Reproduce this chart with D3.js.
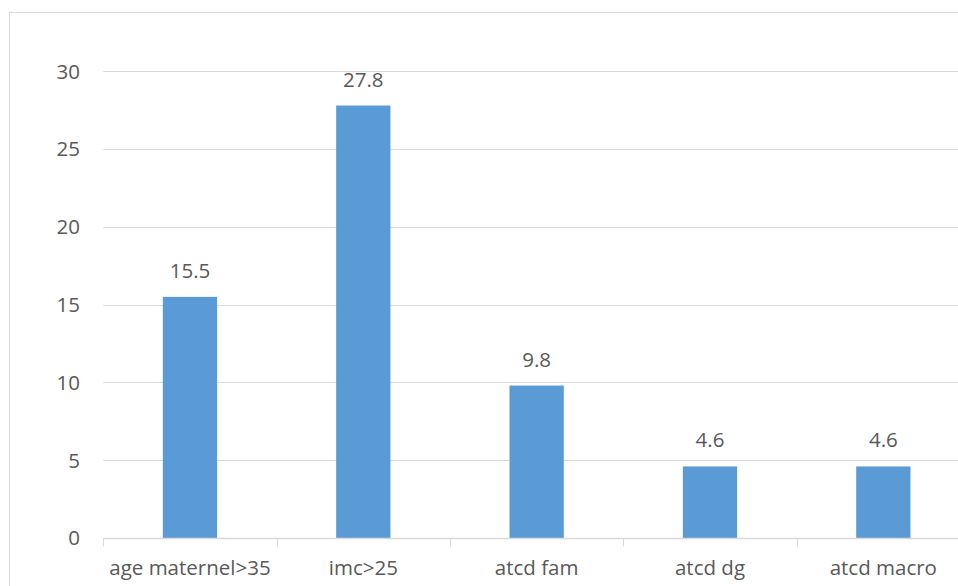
<!DOCTYPE html>
<html>
<head>
<meta charset="utf-8">
<script src="https://cdn.jsdelivr.net/npm/d3@7"></script>
<style>
  html, body { margin: 0; padding: 0; background: #ffffff; }
  svg { display: block; }
  text { font-family: "Open Sans", "Noto Sans", sans-serif; fill: #595959; }
</style>
</head>
<body>
<svg id="chart" width="958" height="586"></svg>
<script>
// Risk factors (%)
const categories = ["age maternel>35", "imc>25", "atcd fam", "atcd dg", "atcd macro"];
const values = [15.5, 27.8, 9.8, 4.6, 4.6];
const yTicks = [0, 5, 10, 15, 20, 25, 30];

const W = 958, H = 586;
const FS = 20.5;
const svg = d3.select("#chart");

// chart frame (extends past the right and bottom edges)
svg.append("rect")
  .attr("x", 9.5).attr("y", 12.5)
  .attr("width", 1000).attr("height", 600)
  .attr("fill", "none").attr("stroke", "#d9d9d9").attr("stroke-width", 1);

const plot = { left: 103.3, right: 970, top: 71.3, bottom: 538 };

const x = d3.scaleBand()
  .domain(categories)
  .range([plot.left, plot.right])
  .paddingInner(0).paddingOuter(0);

const y = d3.scaleLinear()
  .domain([0, 30])
  .range([plot.bottom, plot.top]);

// gridlines
svg.append("g")
  .selectAll("line")
  .data(yTicks.filter(d => d > 0))
  .join("line")
  .attr("x1", plot.left).attr("x2", plot.right)
  .attr("y1", d => Math.round(y(d)) + 0.5).attr("y2", d => Math.round(y(d)) + 0.5)
  .attr("stroke", "#d9d9d9").attr("stroke-width", 1);

// y tick labels
svg.append("g")
  .selectAll("text")
  .data(yTicks)
  .join("text")
  .attr("x", 80).attr("y", d => y(d))
  .attr("dy", "0.36em")
  .attr("text-anchor", "end")
  .attr("font-size", FS)
  .text(d => d);

// bars
const barW = 54.3;
svg.append("g")
  .selectAll("rect")
  .data(values)
  .join("rect")
  .attr("x", (d, i) => x(categories[i]) + x.bandwidth() / 2 - barW / 2)
  .attr("y", d => y(d))
  .attr("width", barW)
  .attr("height", d => y(0) - y(d))
  .attr("fill", "#5b9bd5");

// data labels
svg.append("g")
  .selectAll("text")
  .data(values)
  .join("text")
  .attr("x", (d, i) => x(categories[i]) + x.bandwidth() / 2)
  .attr("y", d => y(d) - 19)
  .attr("text-anchor", "middle")
  .attr("font-size", FS)
  .text(d => d.toFixed(1));

// x axis
const gx = svg.append("g").attr("transform", `translate(0,${Math.round(plot.bottom) + 0.5})`);
gx.append("line")
  .attr("x1", plot.left).attr("x2", plot.right)
  .attr("stroke", "#d9d9d9").attr("stroke-width", 1.5);
gx.selectAll("line.sep")
  .data(d3.range(categories.length + 1))
  .join("line")
  .attr("class", "sep")
  .attr("x1", i => Math.round(plot.left + i * x.bandwidth()) + 0.5)
  .attr("x2", i => Math.round(plot.left + i * x.bandwidth()) + 0.5)
  .attr("y1", 0).attr("y2", 8)
  .attr("stroke", "#d9d9d9").attr("stroke-width", 1);
gx.selectAll("text.cat")
  .data(categories)
  .join("text")
  .attr("class", "cat")
  .attr("x", d => x(d) + x.bandwidth() / 2)
  .attr("y", 36.5)
  .attr("text-anchor", "middle")
  .attr("font-size", FS)
  .text(d => d);
</script>
</body>
</html>
